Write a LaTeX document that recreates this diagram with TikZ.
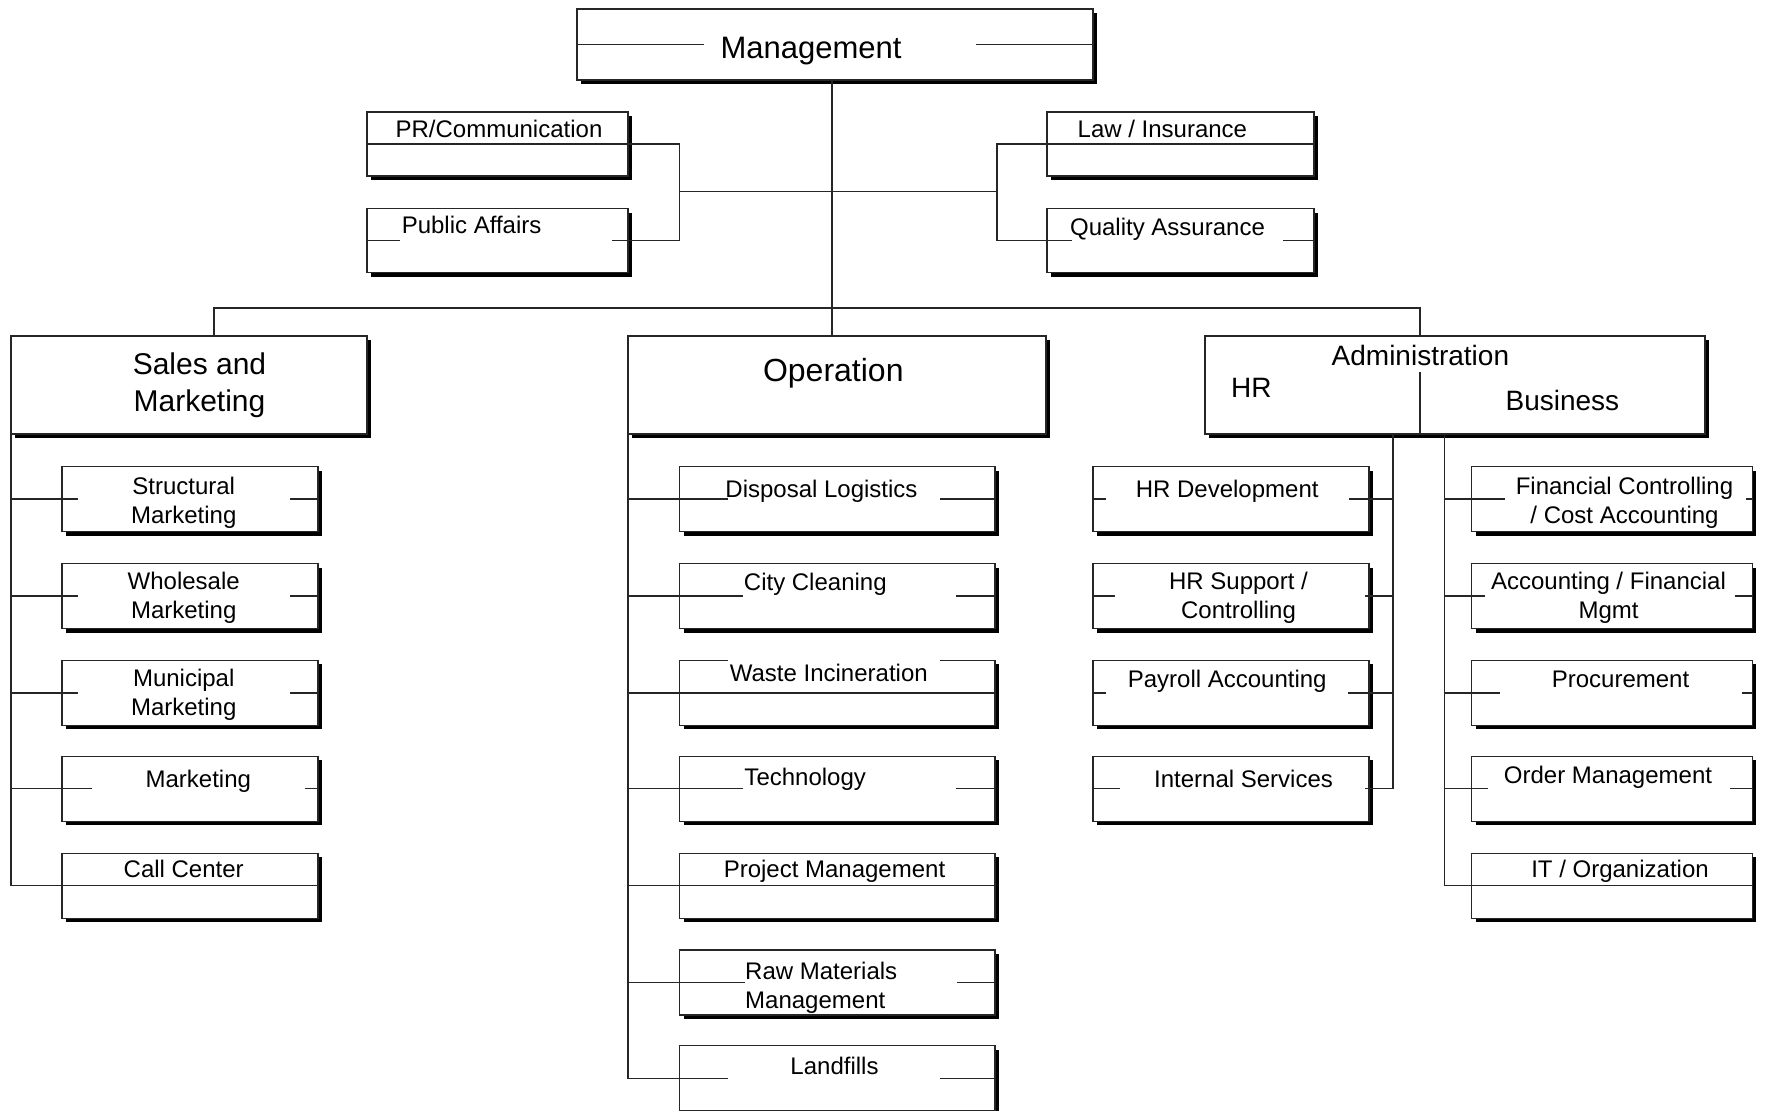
\documentclass[tikz,border=0pt]{standalone}
\usepackage{fontspec}
\setmainfont{Liberation Sans}
\usetikzlibrary{shadows}
\tikzset{
  box/.style={draw=black!85, line width=1.2pt, fill=white,
    general shadow={fill=black, shadow xshift=4pt, shadow yshift=-4pt},
    inner sep=0pt, outer sep=0pt},
  conn/.style={draw=black!85, line width=1.2pt},
  lbl/.style={inner sep=0pt, font=\fontsize{#1}{#1}\selectfont, text height={0.716*#1}, text depth=0pt},
  lbl/.default=24,
  ml/.style={inner sep=0pt, align=center, font=\fontsize{24}{29.3}\selectfont},
}
\newcommand\bx[5]{\node[box, anchor=north west, minimum width={#4-#2}, minimum height={#5-#3}] (#1) at (#2,#3) {};}
\newcommand\mline[3]{\draw[conn] (#1.west) -- ++(#2,0); \draw[conn] (#1.east) -- ++(-#3,0);}
\newcommand\fline[1]{\draw[conn] (#1.west) -- (#1.east);}
\begin{document}
\begin{tikzpicture}[x=1pt,y=-1pt]
\useasboundingbox[fill=white] (0,0) rectangle (1767,1111);
% ---- boxes
\bx{mgmt}{577}{9}{1093}{80}
\bx{pr}{367}{112}{628}{176}
\bx{pa}{367}{208.5}{628}{272.7}
\bx{law}{1047}{112}{1314}{176}
\bx{qa}{1047}{208.5}{1314}{272.7}
\bx{sales}{11}{336}{367}{434}
\bx{op}{628}{336}{1046}{434}
\bx{adm}{1205}{336}{1705}{434}
% sales children
\bx{s1}{62}{466.5}{318}{531.5}
\bx{s2}{62}{563.5}{318}{628.5}
\bx{s3}{62}{660.4}{318}{725.4}
\bx{s4}{62}{756.2}{318}{821.2}
\bx{s5}{62}{853.1}{318}{918.1}
% operation children
\bx{o1}{679.5}{466.5}{995}{531.5}
\bx{o2}{679.5}{563.5}{995}{628.5}
\bx{o3}{679.5}{660.4}{995}{725.4}
\bx{o4}{679.5}{756.2}{995}{821.2}
\bx{o5}{679.5}{853.1}{995}{918.1}
\bx{o6}{679.5}{950.0}{995}{1015.0}
\bx{o7}{679.5}{1045.8}{995}{1110.8}
% HR children
\bx{h1}{1093}{466.5}{1369}{531.5}
\bx{h2}{1093}{563.5}{1369}{628.5}
\bx{h3}{1093}{660.4}{1369}{725.4}
\bx{h4}{1093}{756.2}{1369}{821.2}
% Business children
\bx{b1}{1471.7}{466.5}{1752.3}{531.5}
\bx{b2}{1471.7}{563.5}{1752.3}{628.5}
\bx{b3}{1471.7}{660.4}{1752.3}{725.4}
\bx{b4}{1471.7}{756.2}{1752.3}{821.2}
\bx{b5}{1471.7}{853.1}{1752.3}{918.1}
% ---- connectors
\coordinate (bus) at (832,308);
\coordinate (salesin) at (214,336);
\coordinate (admin) at (1420,336);
\draw[conn] (mgmt.south -| bus) -- (op.north -| bus);
\draw[conn] (bus) -| (salesin);
\draw[conn] (bus) -| (admin);
\coordinate (lj) at (679.5,191.6);
\coordinate (rj) at (997,191.6);
\draw[conn] (lj) -- (rj);
\draw[conn] (pr.east) -| (lj) |- (pa.east);
\draw[conn] (law.west) -| (rj) |- (qa.west);
\draw[conn] (sales.south west) |- (s5.west);
\foreach \i in {1,...,4} \draw[conn] (sales.south west |- s\i.west) -- (s\i.west);
\draw[conn] (op.south west) |- (o7.west);
\foreach \i in {1,...,6} \draw[conn] (op.south west |- o\i.west) -- (o\i.west);
\coordinate (hv) at (1393,434);
\draw[conn] (hv) |- (h4.east);
\foreach \i in {1,...,3} \draw[conn] (hv |- h\i.east) -- (h\i.east);
\coordinate (bv) at (1444.7,434);
\draw[conn] (bv) |- (b5.west);
\foreach \i in {1,...,4} \draw[conn] (bv |- b\i.west) -- (b\i.west);
\coordinate (dv) at (1420,372);
\draw[conn] (dv) -- (dv |- adm.south);
% ---- mid lines
\mline{mgmt}{127}{117}
\fline{pr}
\mline{pa}{33}{16}
\fline{law}
\mline{qa}{25}{31}
\mline{s1}{15.8}{28.4}
\mline{s2}{15.8}{28.4}
\mline{s3}{15.8}{28.4}
\mline{s4}{29.7}{13}
\fline{s5}
\mline{o1}{48.5}{55}
\mline{o2}{63.5}{39}
\fline{o3}
\mline{o4}{63.5}{39}
\fline{o5}
\mline{o6}{65.5}{38}
\mline{o7}{48.5}{55}
\mline{h1}{13}{20}
\mline{h2}{22}{4}
\mline{h3}{13}{21}
\mline{h4}{27}{4}
\mline{b1}{32.8}{6.3}
\mline{b2}{13.3}{17.3}
\mline{b3}{28.3}{10.3}
\mline{b4}{16.3}{22.3}
\fline{b5}
\draw[white, line width=3pt] ([xshift=48.5pt]o3.north west) -- ([xshift=260.5pt]o3.north west);
% ---- texts
\node[lbl=31] (mgmt-t) at (811,47) {Management};
\node[lbl] (pr-t) at (499,128.5) {PR/Communication};
\node[lbl] (pa-t) at (471.6,225.4) {Public Affairs};
\node[lbl] (law-t) at (1162.4,128.5) {Law / Insurance};
\node[lbl] (qa-t) at (1167.5,226.5) {Quality Assurance};
\node[ml, font=\fontsize{30}{37.5}\selectfont] (sales-t) at (199.5,385) {Sales and\\Marketing};
\node[lbl=32] (op-t) at (833.3,369.6) {Operation};
\node[lbl=28] (adm-t) at (1420.4,355) {Administration};
\node[lbl=28] (hr-t) at (1251.4,387.6) {HR};
\node[lbl=28] (bus-t) at (1562.4,400) {Business};
\node[ml] (s1-t) at (183.7,503) {Structural\\Marketing};
\node[ml] (s2-t) at (183.7,598) {Wholesale\\Marketing};
\node[ml] (s3-t) at (183.7,695) {Municipal\\Marketing};
\node[lbl] (s4-t) at (198.3,778.7) {Marketing};
\node[lbl] (s5-t) at (183.7,868.8) {Call Center};
\node[lbl] (o1-t) at (821.5,489) {Disposal Logistics};
\node[lbl] (o2-t) at (815.3,581.5) {City Cleaning};
\node[lbl] (o3-t) at (828.8,672.8) {Waste Incineration};
\node[lbl] (o4-t) at (805.2,776.4) {Technology};
\node[lbl] (o5-t) at (834.5,868.8) {Project Management};
\node[ml, align=left, anchor=west] (o6-t) at (745,987.5) {Raw Materials\\Management};
\node[lbl] (o7-t) at (834.5,1066) {Landfills};
\node[lbl] (h1-t) at (1227.2,489) {HR Development};
\node[ml] (h2-t) at (1238.5,598) {HR Support /\\Controlling};
\node[lbl] (h3-t) at (1227.2,678.4) {Payroll Accounting};
\node[lbl] (h4-t) at (1243.5,778.7) {Internal Services};
\node[ml] (b1-t) at (1624.5,503) {Financial Controlling\\/ Cost Accounting};
\node[ml] (b2-t) at (1608.5,598) {Accounting / Financial\\Mgmt};
\node[lbl] (b3-t) at (1620.5,678.4) {Procurement};
\node[lbl] (b4-t) at (1608,775.3) {Order Management};
\node[lbl] (b5-t) at (1620,868.8) {IT / Organization};
\end{tikzpicture}
\end{document}
